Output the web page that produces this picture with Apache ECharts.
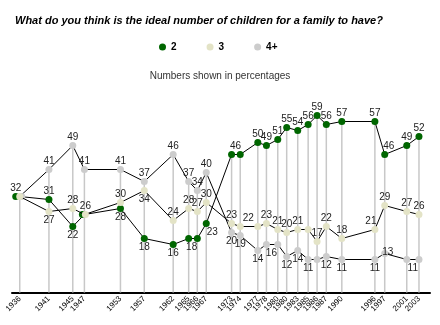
<!DOCTYPE html>
<html><head><meta charset="utf-8">
<script src="https://cdn.jsdelivr.net/npm/echarts@6/dist/echarts.min.js"></script>
<style>html,body{margin:0;padding:0;background:#fff}#c{width:440px;height:325px}</style>
</head><body><div id="c"></div>
<script>
// ---- data ----
const yearLabels = ['1936','1941','1945','1947','1953','1957','1962','1965','1966','1967','1973','1974','1977','1978','1980','1980','1983','1985','1986','1987','1990','1996','1997','2001','2003'];
// poll dates (decimal years) as placed on the reference time axis
const pollDates = [1936.0,1940.9,1944.9,1946.85,1952.9,1956.9,1961.75,1964.35,1965.8,1967.3,1971.55,1973.0,1975.95,1977.4,1979.3,1980.8,1982.65,1984.4,1985.9,1987.45,1990.05,1995.6,1997.25,2000.95,2003.0];
const two      = [32,31,22,26,28,18,16,18,18,23,46,46,50,49,51,55,54,56,59,56,57,57,46,49,52];
const three    = [32,27,28,26,30,34,24,28,27,30,23,22,22,23,21,20,21,21,17,22,18,21,29,27,26];
const fourPlus = [32,41,49,41,41,37,46,37,34,40,20,19,14,16,16,12,14,11,11,12,11,11,13,11,11];
const seriesNames = ['2','3','4+'];

// ---- label placement (style) ----
const lblTwo   = ['t','t','b','','b','b','b','b','','b','t','','t','t','t','t','t','t','t','t','t','t','t','t','t'];
const lblThree = ['','b','t','t','t','b','t','t','t','t','t','t','','t','t','t','t','','t','t','t','t','t','t','t'];
const lblFour  = ['','t','t','t','t','t','t','t','t','t','b','b','b','b','','b','b','b','','b','b','b','i','b',''];
const offTwo   = {7:[3,0],9:[6,0],10:[4,0],22:[4,0]};
const offThree = {11:[8,0],21:[-4,0]};
const offFour  = {13:[5,0],22:[3,-1],23:[6,0]};
const symOff2  = {0:[-4,0],3:[-2,0]};
const symOff3  = {3:[1,0]};
const symOff4  = {0:[2,0]};

const COLORS = ['#006600','#e3e3c6','#cccccc'];

function buildData(vals, lbl, off, symOff){
  return vals.map((v,i)=>{
    const p = lbl[i];
    const item = {value:[pollDates[i], v]};
    const pos = p==='t'?'top':p==='b'?'bottom':p==='i'?'inside':null;
    item.label = pos ? {show:true, position:pos, offset: off[i]||[0,0]} : {show:false};
    if (symOff[i]) item.symbolOffset = symOff[i];
    return item;
  });
}
function lineSeries(name, vals, color, lbl, off, symOff, z){
  return {
    name, type:'line', data: buildData(vals,lbl,off,symOff), z,
    symbol:'circle', symbolSize:7, showSymbol:true,
    lineStyle:{color:'#000', width:1},
    itemStyle:{color: color, borderWidth:0},
    label:{color:'#222', fontSize:10, fontFamily:'Liberation Sans, Arial, sans-serif', distance:0},
    emphasis:{disabled:true}, animation:false
  };
}
const stems = pollDates.map((d,i)=>[d, Math.max(two[i],three[i],fourPlus[i])]);

const chart = echarts.init(document.getElementById('c'), null, {renderer:'canvas'});
chart.setOption({
  animation:false,
  backgroundColor:'#fff',
  title:[
    {text:'What do you think is the ideal number of children for a family to have?', left:15, top:15, padding:0,
     textStyle:{fontSize:11, fontWeight:'bold', fontStyle:'italic', color:'#000', fontFamily:'Liberation Sans, Arial, sans-serif'}},
    {text:'Numbers shown in percentages', left:'center', top:71, padding:0,
     textStyle:{fontSize:10, fontWeight:'normal', color:'#333', fontFamily:'Liberation Sans, Arial, sans-serif'}}
  ],
  legend:{
    data: seriesNames.map((n,i)=>({name:n, icon:'circle', itemStyle:{color:COLORS[i]}})),
    left:159, top:42, itemWidth:7, itemHeight:7, itemGap:30, padding:0,
    textStyle:{fontSize:10, fontWeight:'bold', color:'#000', fontFamily:'Liberation Sans, Arial, sans-serif'},
    selectedMode:false
  },
  grid:{left:12, right:10, top:112.5, bottom:32.5},
  xAxis:{
    type:'value', min:1934.7, max:2004.85,
    axisLine:{show:true, lineStyle:{color:'#000', width:2}},
    axisTick:{show:false}, splitLine:{show:false},
    axisLabel:{
      customValues: pollDates, rotate:45, fontSize:8, color:'#000', margin:5,
      hideOverlap:false, showMinLabel:true, showMaxLabel:true, interval:0,
      fontFamily:'Liberation Sans, Arial, sans-serif',
      formatter: v => { const i = pollDates.findIndex(d=>Math.abs(d-v)<1e-6); return i>=0?yearLabels[i]:''; }
    }
  },
  yAxis:{type:'value', min:0, max:60, show:false},
  series:[
    {type:'bar', data:stems, barWidth:1.5, itemStyle:{color:'#c8c8c8'}, silent:true, z:1, legendHoverLink:false, animation:false},
    lineSeries(seriesNames[0], two, COLORS[0], lblTwo, offTwo, symOff2, 3),
    lineSeries(seriesNames[2], fourPlus, COLORS[2], lblFour, offFour, symOff4, 3),
    lineSeries(seriesNames[1], three, COLORS[1], lblThree, offThree, symOff3, 4)
  ]
});
</script></body></html>
